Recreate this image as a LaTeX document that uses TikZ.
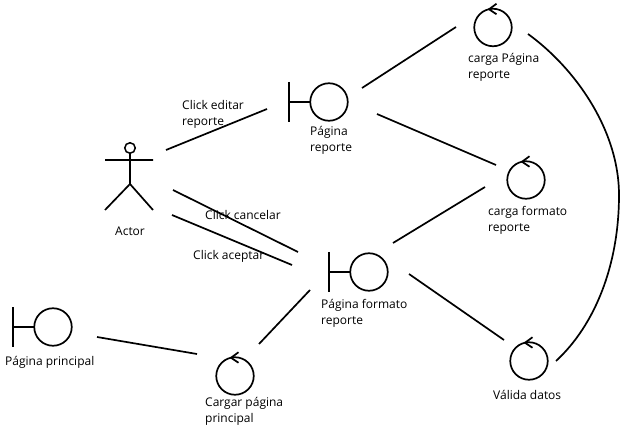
\documentclass[tikz,border=0pt]{standalone}
\usepackage{fontspec}
\setmainfont{Open Sans}
\tikzset{
  x=1pt,y=-1pt,
  ln/.style={draw=black,line width=1.7pt},
  ball/.style={circle,draw=black,line width=1.7pt,minimum size=37.5pt,inner sep=0pt,outer sep=0pt},
  lbl/.style={anchor=west,align=left,inner sep=0pt,text=black,font=\fontsize{12}{16}\selectfont}
}
\begin{document}
\begin{tikzpicture}
\useasboundingbox (0,0) rectangle (622,433);
% actor
\node[circle,draw=black,line width=1.5pt,minimum size=10.5pt,inner sep=0pt,outer sep=0pt] (head) at (130,148) {};
\coordinate (armL) at (105,160);
\coordinate (armR) at (153,160);
\coordinate (hip) at (130,184);
\coordinate (legL) at (105,210);
\coordinate (legR) at (153,210);
\draw[ln] (head.south) -- (hip) (armL) -- (armR) (legL) -- (hip) -- (legR);
% boundaries
\node[ball] (pr) at (329,102) {};
\node[ball] (pf) at (369,272) {};
\node[ball] (pp) at (53,327) {};
\foreach \n in {pr,pf,pp}{
  \draw[ln] (\n.west) -- ++(-21,0) ++(0,-20) -- ++(0,40);
}
% controls
\node[ball] (cp) at (493,27.5) {};
\node[ball] (cf) at (526,180) {};
\node[ball] (vd) at (529,361) {};
\node[ball] (cc) at (235,376) {};
\foreach \n in {cp,cf,vd,cc}{
  \draw[ln] ([shift={(3.5,-5)}]\n.north) -- ([shift={(-4,0.5)}]\n.north) -- ([shift={(3.5,5.5)}]\n.north);
}
% connector ends
\coordinate (a1) at (166,150); \coordinate (b1) at (267,109);
\coordinate (a2) at (173,190); \coordinate (b2) at (298,252);
\coordinate (a3) at (172,215); \coordinate (b3) at (292,265);
\coordinate (a4) at (362,88);  \coordinate (b4) at (456,27);
\coordinate (a5) at (377,114); \coordinate (b5) at (496,165);
\coordinate (a6) at (393,243); \coordinate (b6) at (485,187);
\coordinate (a7) at (409,274); \coordinate (b7) at (504,340);
\coordinate (a8) at (310,290); \coordinate (b8) at (259,344);
\coordinate (a9) at (97,337);  \coordinate (b9) at (197,354);
\coordinate (c1) at (528,34);  \coordinate (c2) at (619,195); \coordinate (c3) at (556,361);
\foreach \i in {1,...,9}{ \draw[ln] (a\i) -- (b\i); }
\draw[ln] (c1) .. controls (575,68) and (619,130) .. (c2) .. controls (619,265) and (595,325) .. (c3);
% labels
\node[lbl] (t1) at (182,114) {Click editar\\reporte};
\node[lbl] (t2) at (115,231) {Actor};
\node[lbl] (t3) at (205,215) {Click cancelar};
\node[lbl] (t4) at (193,256) {Click aceptar};
\node[lbl] (t5) at (310,140) {Página\\reporte};
\node[lbl] (t6) at (468,67) {carga Página\\reporte};
\node[lbl] (t7) at (488,220) {carga formato\\reporte};
\node[lbl] (t8) at (321,313) {Página formato\\reporte};
\node[lbl] (t9) at (493,395) {Válida datos};
\node[lbl] (t10) at (5,362) {Página principal};
\node[lbl] (t11) at (205,411.5) {Cargar página\\principal};
\end{tikzpicture}
\end{document}
